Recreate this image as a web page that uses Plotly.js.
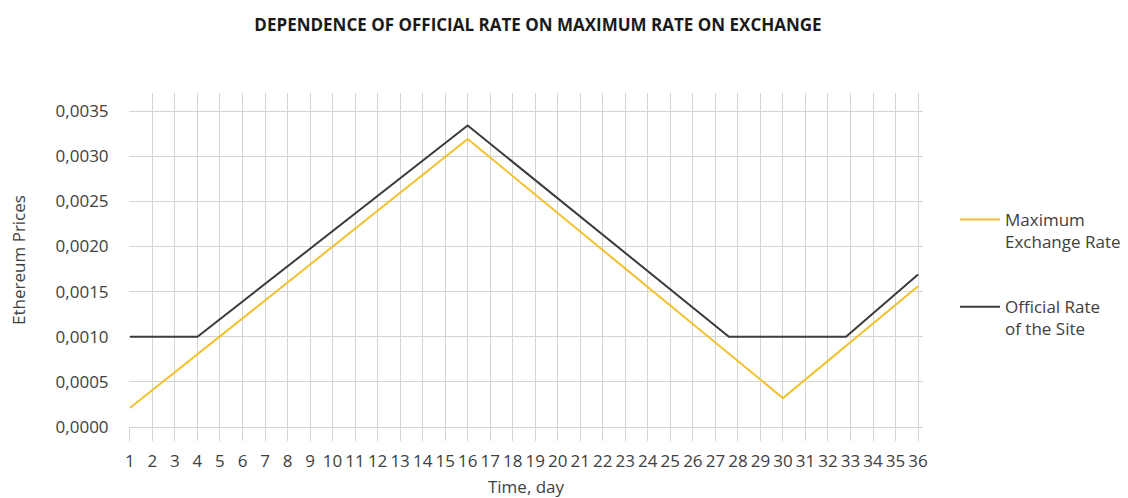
<!DOCTYPE html>
<html>
<head>
<meta charset="utf-8">
<script src="https://cdn.plot.ly/plotly-3.0.1.min.js"></script>
<style>
  html, body { margin: 0; padding: 0; background: #ffffff; }
  #chart { width: 1128px; height: 498px; }
</style>
</head>
<body>
<div id="chart"></div>
<script>
// Data
const maxDays = [1, 16, 30, 36];
const maxRate = [0.00021, 0.00319, 0.00032, 0.00156];

const officialDays = [1, 4, 16, 27.6, 32.8, 36];
const officialRate = [0.0010, 0.0010, 0.00334, 0.0010, 0.0010, 0.00169];

const dayTicks = [];
for (let d = 1; d <= 36; d++) dayTicks.push(d);
const dayLabels = dayTicks.map(String);

const seriesNames = ['Maximum<br>Exchange Rate', 'Official Rate<br>of the Site'];
const seriesColors = ['#F2C12E', '#3b3b3b'];

const FONT = '"Open Sans", "Noto Sans", sans-serif';
const GRID = '#d4d4d4';

const traces = [
  {
    x: maxDays, y: maxRate, type: 'scatter', mode: 'lines',
    name: seriesNames[0], legendgroup: 'a',
    line: { color: seriesColors[0], width: 2 }
  },
  {
    x: officialDays, y: officialRate, type: 'scatter', mode: 'lines',
    name: seriesNames[1], legendgroup: 'b',
    line: { color: seriesColors[1], width: 2 }
  }
];

const layout = {
  width: 1128, height: 498,
  margin: { l: 129, r: 205, t: 93, b: 71, pad: 0, autoexpand: false },
  paper_bgcolor: '#ffffff', plot_bgcolor: '#ffffff',
  separators: ',.',
  font: { family: FONT, color: '#404040', size: 16 },
  title: {
    text: '<b>DEPENDENCE OF OFFICIAL RATE ON MAXIMUM RATE ON EXCHANGE</b>',
    font: { family: FONT, size: 17, color: '#1a1a1a' },
    x: 538 / 1128, xref: 'container', xanchor: 'center',
    y: 1 - 25 / 498, yref: 'container', yanchor: 'middle'
  },
  xaxis: {
    range: [0.96, 36.22],
    tickmode: 'array', tickvals: dayTicks, ticktext: dayLabels,
    showgrid: true, gridcolor: GRID, gridwidth: 1,
    ticks: 'outside', ticklen: 13, tickcolor: GRID, tickwidth: 1,
    ticklabelstandoff: 6,
    zeroline: false, showline: false,
    tickfont: { family: FONT, size: 17, color: '#404040' },
    title: { text: 'Time, day', font: { family: FONT, size: 17, color: '#404040' }, standoff: 11 },
    automargin: false,
    fixedrange: true
  },
  yaxis: {
    range: [0, 0.0037],
    tick0: 0, dtick: 0.0005, tickformat: '.4f',
    showgrid: true, gridcolor: GRID, gridwidth: 1,
    zeroline: true, zerolinecolor: GRID, zerolinewidth: 1,
    ticks: 'outside', ticklen: 16, tickcolor: 'rgba(0,0,0,0)',
    showline: false,
    tickfont: { family: FONT, size: 17, color: '#404040' },
    title: { text: 'Ethereum Prices', font: { family: FONT, size: 17, color: '#404040' }, standoff: 25 },
    automargin: false,
    fixedrange: true
  },
  showlegend: true,
  legend: {
    xref: 'container', yref: 'container',
    x: 955 / 1128, xanchor: 'left',
    y: 1 - 202 / 498, yanchor: 'top',
    font: { family: FONT, size: 17, color: '#404040' },
    traceorder: 'grouped', tracegroupgap: 40,
    valign: 'top',
    itemwidth: 40, bgcolor: 'rgba(0,0,0,0)'
  }
};

Plotly.newPlot('chart', traces, layout, { displayModeBar: false, staticPlot: true });
</script>
</body>
</html>
